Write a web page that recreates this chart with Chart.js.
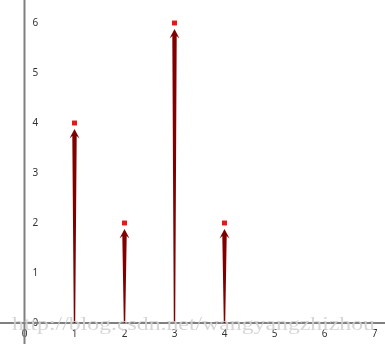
<!DOCTYPE html>
<html>
<head>
<meta charset="utf-8">
<script src="https://cdn.jsdelivr.net/npm/chart.js@4/dist/chart.umd.min.js"></script>
<style>
  html, body { margin: 0; padding: 0; background: #fff; }
  #wrap { width: 385px; height: 344px; }
</style>
</head>
<body>
<div id="wrap"><canvas id="myChart" width="385" height="344"></canvas></div>
<script>
// data
const xValues = [1, 2, 3, 4];
const yValues = [4, 2, 6, 2];
const xTicks = [0, 1, 2, 3, 4, 5, 6, 7];
const yTicks = [0, 1, 2, 3, 4, 5, 6];
const watermark = 'http://blog.csdn.net/wangyangzhizhou';

const points = xValues.map((x, i) => ({ x: x, y: yValues[i] }));

// gray axis lines crossing at the origin, running to the canvas edges
const axisLines = {
    id: 'axisLines',
    beforeDatasetsDraw(chart) {
        const ctx = chart.ctx;
        const x0 = chart.scales.x.getPixelForValue(0);
        const y0 = chart.scales.y.getPixelForValue(0);
        ctx.save();
        ctx.strokeStyle = '#808080';
        ctx.lineWidth = 2;
        ctx.beginPath();
        ctx.moveTo(x0, 0);
        ctx.lineTo(x0, chart.height);
        ctx.moveTo(0, y0);
        ctx.lineTo(chart.width, y0);
        ctx.stroke();
        ctx.restore();
    }
};

// tapered dark red arrows from y=0 up to each point
const arrows = {
    id: 'arrows',
    beforeDatasetsDraw(chart) {
        const ctx = chart.ctx;
        const xs = chart.scales.x, ys = chart.scales.y;
        const y0 = ys.getPixelForValue(0);
        ctx.save();
        ctx.fillStyle = '#800000';
        points.forEach(p => {
            const px = xs.getPixelForValue(p.x);
            const py = ys.getPixelForValue(p.y);
            const tip = py + 6;
            const base = py + 15.5;
            const notch = py + 13;
            ctx.beginPath();
            ctx.moveTo(px - 0.7, y0);
            ctx.lineTo(px - 2.2, notch);
            ctx.lineTo(px - 5, base);
            ctx.lineTo(px, tip);
            ctx.lineTo(px + 5, base);
            ctx.lineTo(px + 2.2, notch);
            ctx.lineTo(px + 0.7, y0);
            ctx.closePath();
            ctx.fill();
        });
        ctx.restore();
    }
};

// blog watermark along the bottom
const watermarkText = {
    id: 'watermarkText',
    afterDraw(chart) {
        const ctx = chart.ctx;
        ctx.save();
        ctx.font = '18px "Liberation Serif", serif';
        ctx.fillStyle = 'rgba(210,210,210,0.9)';
        ctx.textBaseline = 'alphabetic';
        const w = ctx.measureText(watermark).width;
        const target = 363;
        ctx.translate(12, 330);
        ctx.scale(target / w, 1);
        ctx.fillText(watermark, 0, 0);
        ctx.restore();
    }
};

Chart.defaults.font.family = '"Noto Sans", "DejaVu Sans", sans-serif';
Chart.defaults.font.size = 10;
Chart.defaults.color = '#333';

new Chart(document.getElementById('myChart'), {
    type: 'scatter',
    data: {
        datasets: [{
            data: points,
            pointStyle: 'rect',
            pointRadius: 3.5,
            pointHoverRadius: 3.5,
            pointBorderWidth: 0,
            backgroundColor: '#e31a1c',
            borderColor: '#e31a1c',
            clip: false
        }]
    },
    options: {
        responsive: false,
        animation: false,
        events: [],
        layout: { autoPadding: false, padding: { left: 24.5, right: 0, top: 0, bottom: 0 } },
        plugins: { legend: { display: false }, tooltip: { enabled: false } },
        scales: {
            x: {
                type: 'linear',
                min: 0,
                max: 7.21,
                afterFit(scale) {
                    scale.height = 21;
                    scale.paddingLeft = 0;
                    scale.paddingRight = 0;
                },
                afterBuildTicks(scale) { scale.ticks = xTicks.map(v => ({ value: v })); },
                grid: { display: false, drawTicks: false },
                border: { display: false },
                ticks: { padding: 5, includeBounds: false, maxRotation: 0, autoSkip: false }
            },
            y: {
                type: 'linear',
                min: 0,
                max: 6.46,
                afterFit(scale) {
                    scale.width = 0;
                    scale.paddingTop = 0;
                    scale.paddingBottom = 0;
                },
                afterBuildTicks(scale) { scale.ticks = yTicks.map(v => ({ value: v })); },
                grid: { display: false, drawTicks: false },
                border: { display: false },
                ticks: { mirror: true, padding: 8, includeBounds: false, autoSkip: false }
            }
        }
    },
    plugins: [axisLines, arrows, watermarkText]
});
</script>
</body>
</html>
